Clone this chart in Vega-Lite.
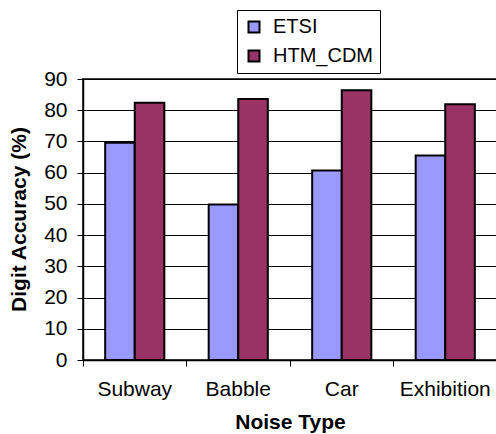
{
  "$schema": "https://vega.github.io/schema/vega-lite/v6.json",
  "autosize": "none",
  "padding": {"left": 83, "top": 79, "right": 0, "bottom": 74},
  "width": 414,
  "height": 281,
  "background": "white",
  "config": {
    "font": "Liberation Sans",
    "view": {"stroke": "#404040", "strokeWidth": 2}
  },
  "data": {
    "values": [
      {"noise": "Subway", "method": "ETSI", "accuracy": 69.6},
      {"noise": "Subway", "method": "HTM_CDM", "accuracy": 82.4},
      {"noise": "Babble", "method": "ETSI", "accuracy": 49.8},
      {"noise": "Babble", "method": "HTM_CDM", "accuracy": 83.6},
      {"noise": "Car", "method": "ETSI", "accuracy": 60.7},
      {"noise": "Car", "method": "HTM_CDM", "accuracy": 86.4},
      {"noise": "Exhibition", "method": "ETSI", "accuracy": 65.5},
      {"noise": "Exhibition", "method": "HTM_CDM", "accuracy": 81.9}
    ]
  },
  "mark": {"type": "bar", "stroke": "black", "strokeWidth": 2, "opacity": 1},
  "encoding": {
    "x": {
      "field": "noise",
      "type": "nominal",
      "sort": ["Subway", "Babble", "Car", "Exhibition"],
      "scale": {"paddingInner": 0, "paddingOuter": 0},
      "axis": {
        "title": "Noise Type",
        "titleFontSize": 21,
        "titleFontWeight": "bold",
        "titleColor": "black",
        "titleY": 62,
        "titleBaseline": "middle",
        "labelAngle": 0,
        "labelFontSize": 21,
        "labelColor": "black",
        "labelBaseline": "middle",
        "labelPadding": 23,
        "bandPosition": 0,
        "tickSize": 6,
        "tickColor": "black",
        "domainColor": "black",
        "domainWidth": 1.5,
        "grid": false
      }
    },
    "xOffset": {
      "field": "method",
      "type": "nominal",
      "scale": {"paddingInner": 0, "paddingOuter": 0.75}
    },
    "y": {
      "field": "accuracy",
      "type": "quantitative",
      "scale": {"domain": [0, 90], "nice": false},
      "axis": {
        "title": "Digit Accuracy (%)",
        "titleFontSize": 21,
        "titleFontWeight": "bold",
        "titleColor": "black",
        "titleX": -64,
        "titleY": 140,
        "titleAngle": 270,
        "titleAlign": "center",
        "titleBaseline": "middle",
        "values": [0, 10, 20, 30, 40, 50, 60, 70, 80, 90],
        "labelFontSize": 21,
        "labelColor": "black",
        "labelPadding": 10,
        "tickSize": 6,
        "tickColor": "black",
        "domainColor": "black",
        "domainWidth": 1.5,
        "grid": true,
        "gridColor": "black",
        "gridWidth": 1
      }
    },
    "color": {
      "field": "method",
      "type": "nominal",
      "scale": {"domain": ["ETSI", "HTM_CDM"], "range": ["#9999FF", "#993366"]},
      "legend": {
        "title": null,
        "orient": "none",
        "legendX": 154,
        "legendY": -69,
        "direction": "vertical",
        "padding": 7,
        "rowPadding": 9,
        "strokeColor": "black",
        "fillColor": "white",
        "symbolType": "square",
        "symbolSize": 121,
        "symbolStrokeColor": "black",
        "symbolStrokeWidth": 2,
        "symbolOpacity": 1,
        "labelFontSize": 20,
        "labelColor": "black",
        "labelOffset": 9
      }
    }
  }
}
